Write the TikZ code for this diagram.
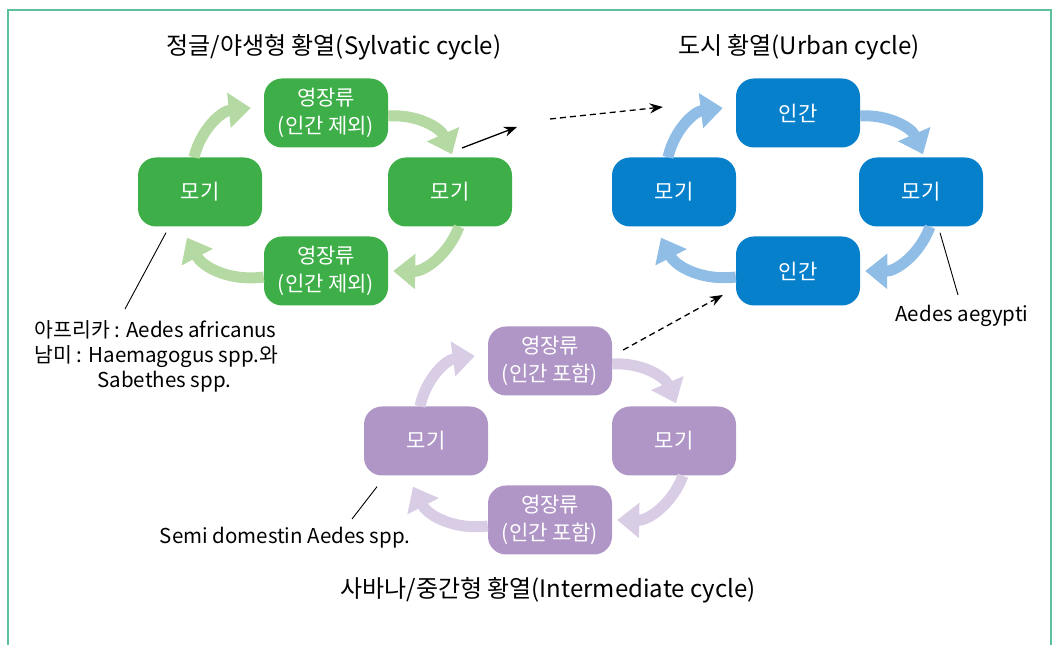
\documentclass[tikz,border=0pt]{standalone}
\usepackage{fontspec}
\setmainfont{Noto Sans CJK KR}
\usetikzlibrary{arrows.meta}

\definecolor{framegreen}{HTML}{5CC09A}
\definecolor{sylvatic}{HTML}{3EAF48}
\definecolor{sylvaticlight}{HTML}{B4D9A2}
\definecolor{urban}{HTML}{0680CB}
\definecolor{urbanlight}{HTML}{8FBDE6}
\definecolor{inter}{HTML}{B096C6}
\definecolor{interlight}{HTML}{D9CCE5}

\tikzset{
	host/.style = {rounded corners = 18bp, minimum width = 124bp, minimum height = 69bp,
		inner sep = 0pt, align = center, text = white, font = \fontsize{21bp}{28bp}\selectfont},
	cyclearrow/.style = {line width = 11bp, -{Triangle[length = 22bp, width = 34bp]}},
	title/.style = {font = \fontsize{24bp}{28bp}\selectfont},
	note/.style = {font = \fontsize{20.5bp}{25bp}\selectfont},
	leader/.style = {line width = 0.9bp},
	jump/.style = {line width = 1.3bp, -{Stealth[length = 13bp, width = 10bp]}},
	jumpdash/.style = {jump, dash pattern = on 6bp off 4bp},
}

\begin{document}
\begin{tikzpicture}[x = 1bp, y = 1bp]
		\useasboundingbox (0, 0) rectangle (1058, 645) ;
		\draw [framegreen, line width = 2bp] (8, -5) -- (8, 635) -- (1051, 635) -- (1051, -5) ;

		% titles
		\node [title] (t-sylv) at (334, 598) {정글/야생형 황열(Sylvatic cycle)} ;
		\node [title] (t-urban) at (799, 598) {도시 황열(Urban cycle)} ;
		\node [title] (t-inter) at (548, 55) {사바나/중간형 황열(Intermediate cycle)} ;

		% sylvatic cycle
		\node [host, fill = sylvatic] (g-top) at (326, 532) {영장류\\(인간 제외)} ;
		\node [host, fill = sylvatic] (g-left) at (200, 453) {모기} ;
		\node [host, fill = sylvatic] (g-right) at (450, 453) {모기} ;
		\node [host, fill = sylvatic] (g-bottom) at (326, 374) {영장류\\(인간 제외)} ;

		% urban cycle
		\node [host, fill = urban] (b-top) at (798, 532) {인간} ;
		\node [host, fill = urban] (b-left) at (674, 453) {모기} ;
		\node [host, fill = urban] (b-right) at (921, 453) {모기} ;
		\node [host, fill = urban] (b-bottom) at (798, 374) {인간} ;

		% intermediate cycle
		\node [host, fill = inter] (p-top) at (550, 284) {영장류\\(인간 포함)} ;
		\node [host, fill = inter] (p-left) at (426, 204) {모기} ;
		\node [host, fill = inter] (p-right) at (674, 204) {모기} ;
		\node [host, fill = inter] (p-bottom) at (550, 125) {영장류\\(인간 포함)} ;

		\foreach \c/\col in {g/sylvaticlight, b/urbanlight, p/interlight}{
			\draw [cyclearrow, \col] ([xshift = -6bp]\c-left.north) to [bend left = 35] ([xshift = -13bp, yshift = 5bp]\c-top.west) ;
			\draw [cyclearrow, \col] ([yshift = -3bp]\c-top.east) to [bend left = 35] ([xshift = 2bp, yshift = 3bp]\c-right.north) ;
			\draw [cyclearrow, \col] ([xshift = 9bp]\c-right.south) to [bend left = 35] ([xshift = 5bp]\c-bottom.east) ;
			\draw [cyclearrow, \col] ([yshift = -6bp]\c-bottom.west) to [bend left = 35] ([xshift = -13bp, yshift = -11bp]\c-left.south) ;
		}

		% links between cycles
		\coordinate (out-start) at (462, 497) ;
		\coordinate (out-end) at (517, 518) ;
		\coordinate (urban-in) at (550, 526) ;
		\draw [jump] (out-start) -- (out-end) ;
		\draw [jumpdash] (urban-in) -- ([xshift = -73bp, yshift = 6bp]b-top.west) ;
		\draw [jumpdash] ([xshift = 11bp, yshift = 11bp]p-top.east) -- ([xshift = -13bp, yshift = -24bp]b-bottom.west) ;

		% vector labels
		\node [note, anchor = north west, align = left] (afr) at (31, 328)
			{아프리카 : Aedes africanus\\남미 : Haemagogus spp.와\\\hspace*{63bp}Sabethes spp.} ;
		\node [note] (aeg) at (962, 329) {Aedes aegypti} ;
		\node [note] (semi) at (285, 107) {Semi domestin Aedes spp.} ;
		\coordinate (afr-tip) at (125, 336) ;
		\coordinate (aeg-tip) at (958, 350) ;
		\coordinate (semi-tip) at (352, 126) ;
		\draw [leader] ([xshift = -34bp, yshift = -6bp]g-left.south) -- (afr-tip) ;
		\draw [leader] ([xshift = 19bp, yshift = -6bp]b-right.south) -- (aeg-tip) ;
		\draw [leader] ([xshift = -49bp, yshift = -11bp]p-left.south) -- (semi-tip) ;
	\end{tikzpicture}
\end{document}
